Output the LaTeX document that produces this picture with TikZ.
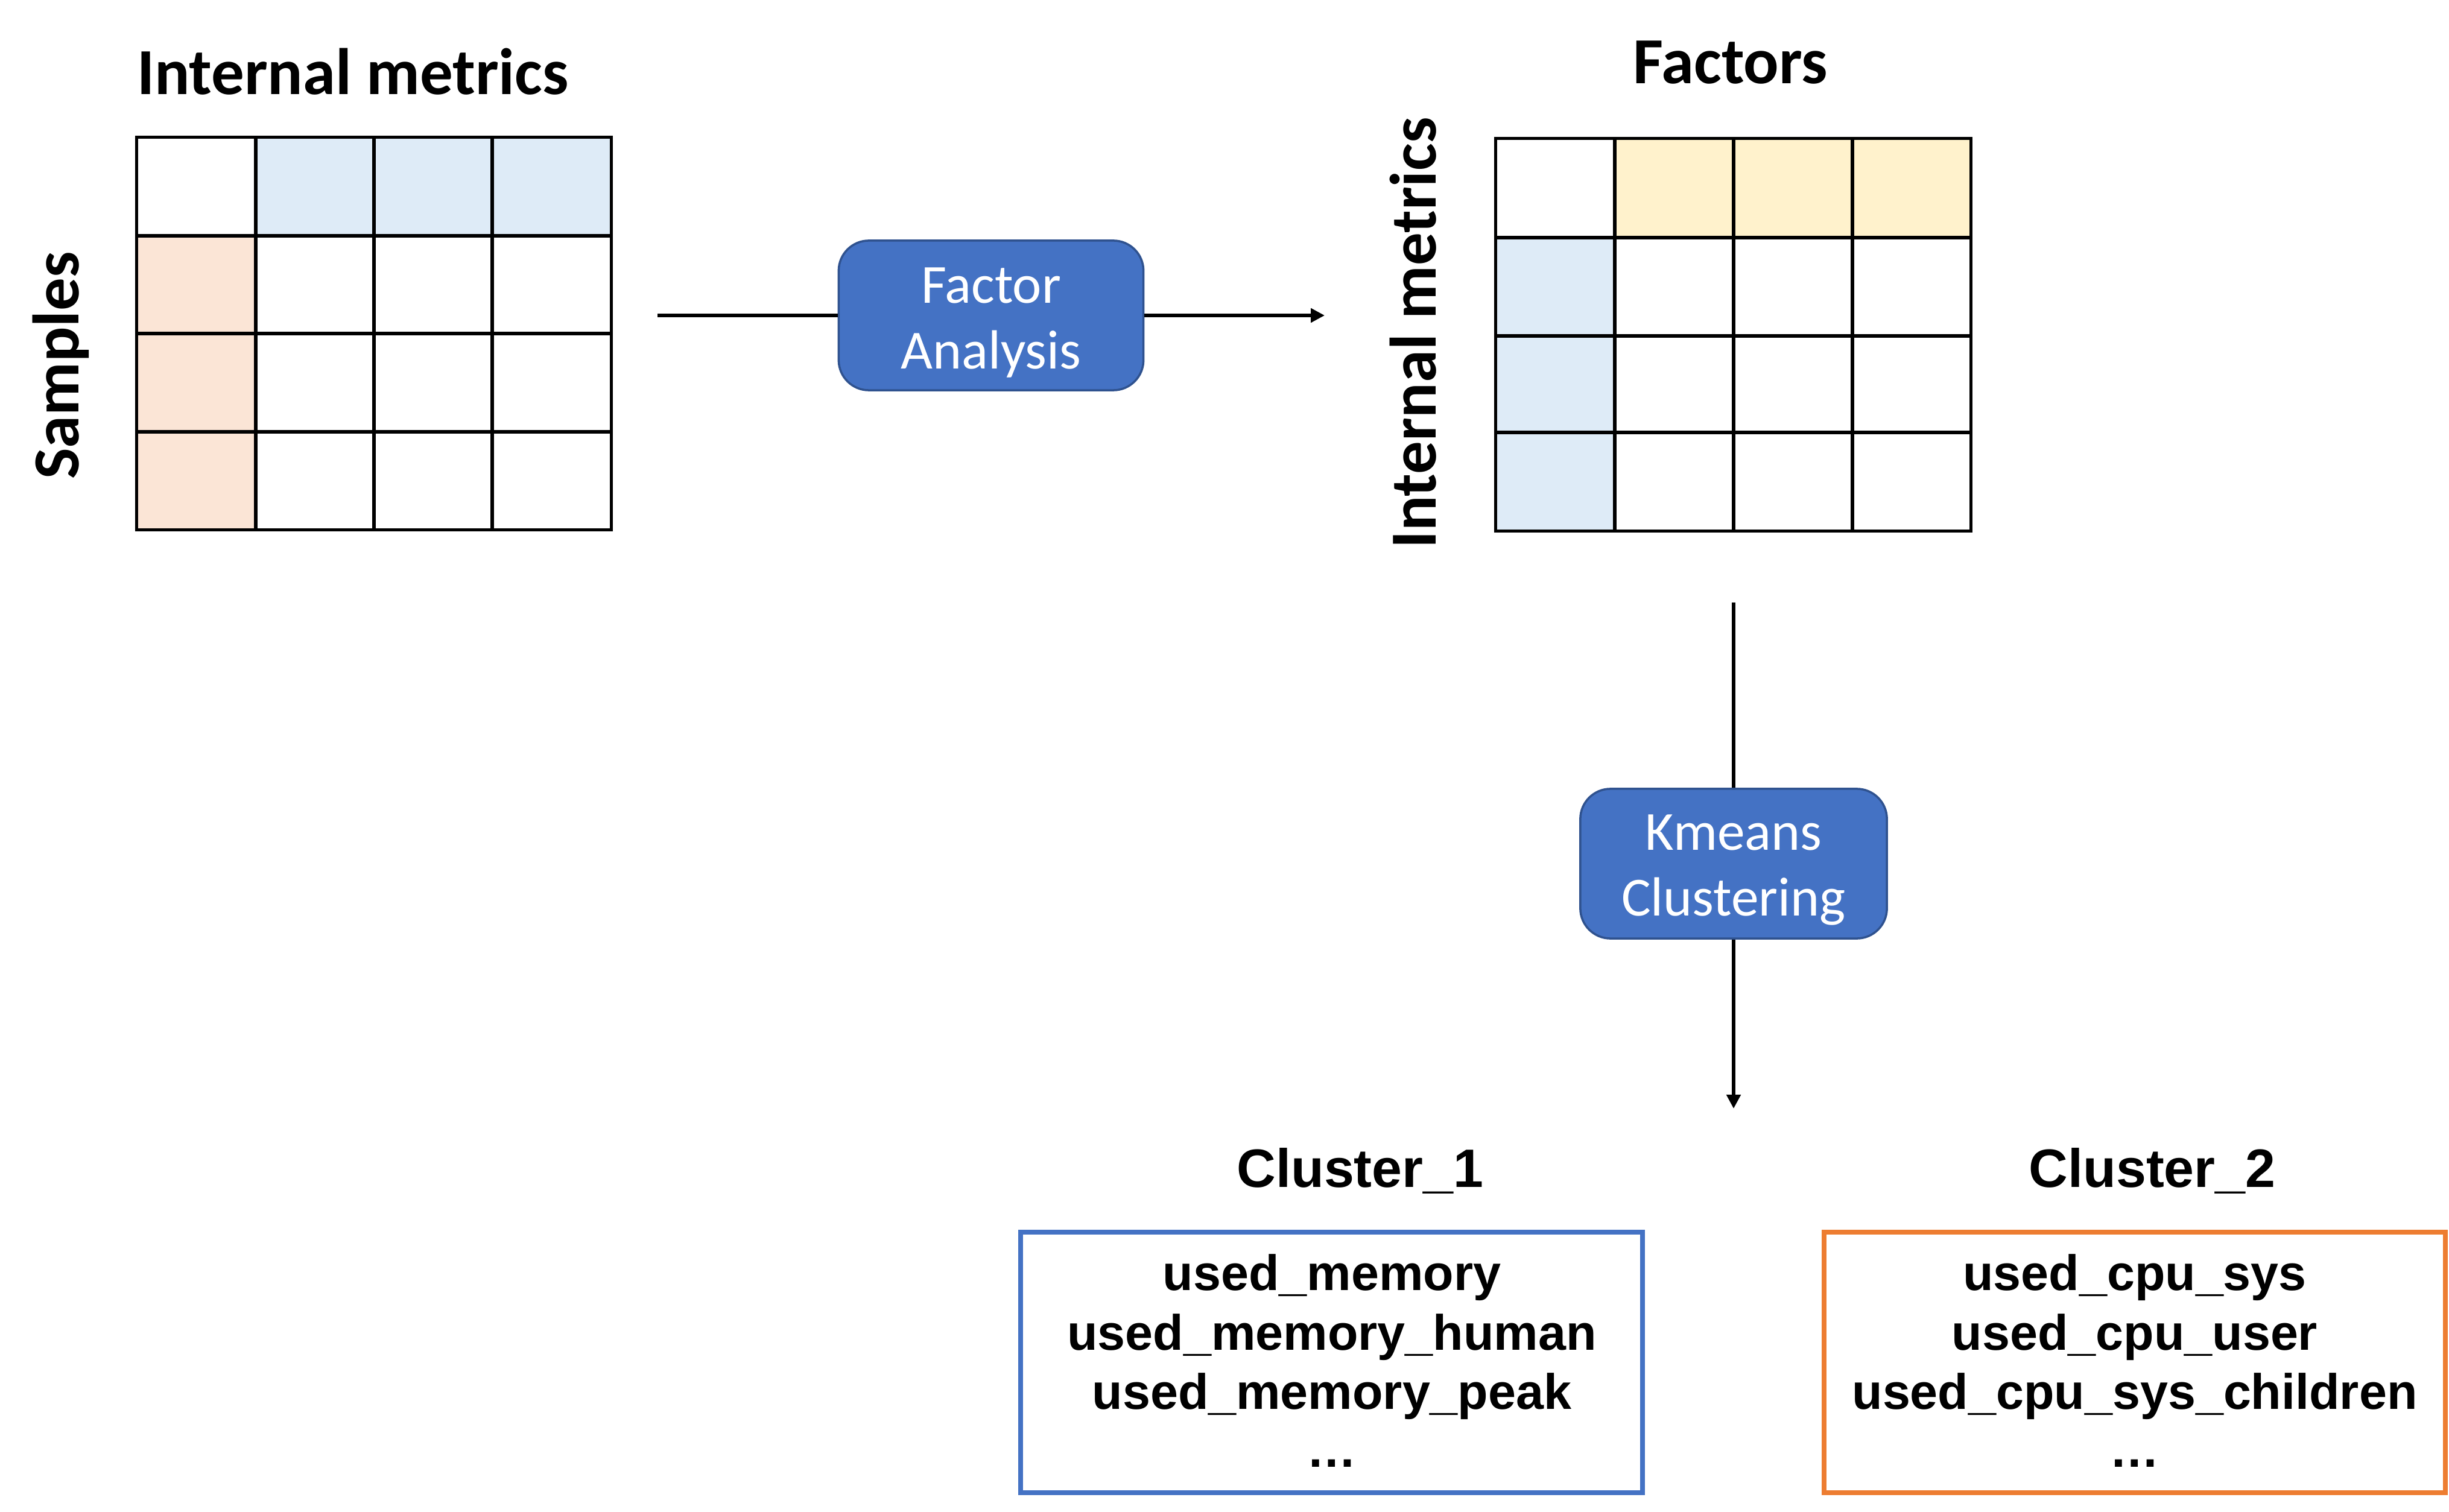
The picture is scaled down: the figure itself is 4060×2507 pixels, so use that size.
\documentclass[tikz,border=0pt]{standalone}
\usepackage{fontspec}
\setmainfont{Carlito}
\newfontfamily\arialfont{Liberation Sans}
\usetikzlibrary{arrows.meta}
\definecolor{hdrblue}{HTML}{DEEBF7}
\definecolor{peach}{HTML}{FBE5D6}
\definecolor{paleyellow}{HTML}{FFF2CC}
\definecolor{boxblue}{HTML}{4472C4}
\definecolor{boxedge}{HTML}{2F528F}
\definecolor{orangeedge}{HTML}{ED7D31}
\tikzset{
  titletext/.style={font=\fontsize{31}{36}\selectfont\bfseries, inner sep=0pt},
  gridline/.style={line width=1.5pt, black},
  matbox/.style={draw, line width=1.5pt, inner sep=0pt, minimum width=7.86cm, minimum height=6.5cm},
  procbox/.style={draw=boxedge, line width=1pt, fill=boxblue, rounded corners=0.5cm, minimum height=2.48cm},
  proctext/.style={text=white, align=center, font=\fontsize{26}{31}\selectfont, inner sep=0pt},
  conn/.style={line width=1.5pt, black},
  tipconn/.style={conn, -{Triangle[length=6.5pt,width=6.5pt]}},
  clustertitle/.style={font=\arialfont\fontsize{25.5}{30}\selectfont\bfseries, inner sep=0pt},
  listtext/.style={font=\arialfont\fontsize{23.5}{28}\selectfont\bfseries, align=center, inner sep=0pt},
  clusterbox/.style={draw, line width=2.2pt, minimum width=10.3cm, minimum height=4.32cm, inner sep=0pt}
}
\begin{document}
\begin{tikzpicture}[x=0.01cm,y=-0.01cm]
\useasboundingbox (0,0) rectangle (4060,2507);

% ---- left matrix ----
\fill[hdrblue] (424,228) rectangle (1012,391);
\fill[peach] (228,391) rectangle (424,878);
\foreach \xx in {424,620,816} \draw[gridline] (\xx,228) -- (\xx,878);
\foreach \yy in {391,553,716} \draw[gridline] (228,\yy) -- (1012,\yy);
\node[matbox] (mat1) at (620,553) {};

% ---- right matrix ----
\fill[paleyellow] (2677,230) rectangle (3267,394);
\fill[hdrblue] (2480,394) rectangle (2677,880);
\foreach \xx in {2677,2874,3071} \draw[gridline] (\xx,230) -- (\xx,880);
\foreach \yy in {394,557,717} \draw[gridline] (2480,\yy) -- (3267,\yy);
\node[matbox, minimum width=7.87cm] (mat2) at (2873.5,555) {};

% ---- titles ----
\node[titletext] (t1) at (585,119) {Internal metrics};
\node[titletext, rotate=90] (samples) at (101,606) {Samples};
\node[titletext] (factors) at (2869,104) {Factors};
\node[titletext, rotate=90] (t2) at (2343,552) {Internal metrics};

% ---- process boxes ----
\node[procbox, minimum width=5.05cm] (fa) at (1643,523) {};
\node[proctext] (fatext) at (1643,535) {Factor\\Analysis};
\node[procbox, minimum width=5.08cm] (km) at (2874,1432) {};
\node[proctext] (kmtext) at (2874,1443) {Kmeans\\Clustering};

% ---- connectors ----
\coordinate (a1s) at (1090,523);
\coordinate (a1e) at (2196,523);
\coordinate (a2s) at (2874,999);
\coordinate (a2e) at (2874,1838);
\draw[conn] (a1s) -- (fa.west);
\draw[tipconn] (fa.east) -- (a1e);
\draw[conn] (a2s) -- (km.north);
\draw[tipconn] (km.south) -- (a2e);

% ---- clusters ----
\node[clustertitle] (c1t) at (2255,1941) {Cluster\_1};
\node[clustertitle] (c2t) at (3568,1941) {Cluster\_2};
\node[clusterbox, draw=boxblue] (c1box) at (2207.5,2259) {};
\node[clusterbox, draw=orangeedge] (c2box) at (3539,2259) {};
\node[listtext] (c1list) at (2208,2217) {used\_memory\\used\_memory\_human\\used\_memory\_peak};
\node[listtext, anchor=base] (c1dots) at (2208,2432) {…};
\node[listtext] (c2list) at (3539,2217) {used\_cpu\_sys\\used\_cpu\_user\\used\_cpu\_sys\_children};
\node[listtext, anchor=base] (c2dots) at (3539,2432) {…};
\end{tikzpicture}
\end{document}
